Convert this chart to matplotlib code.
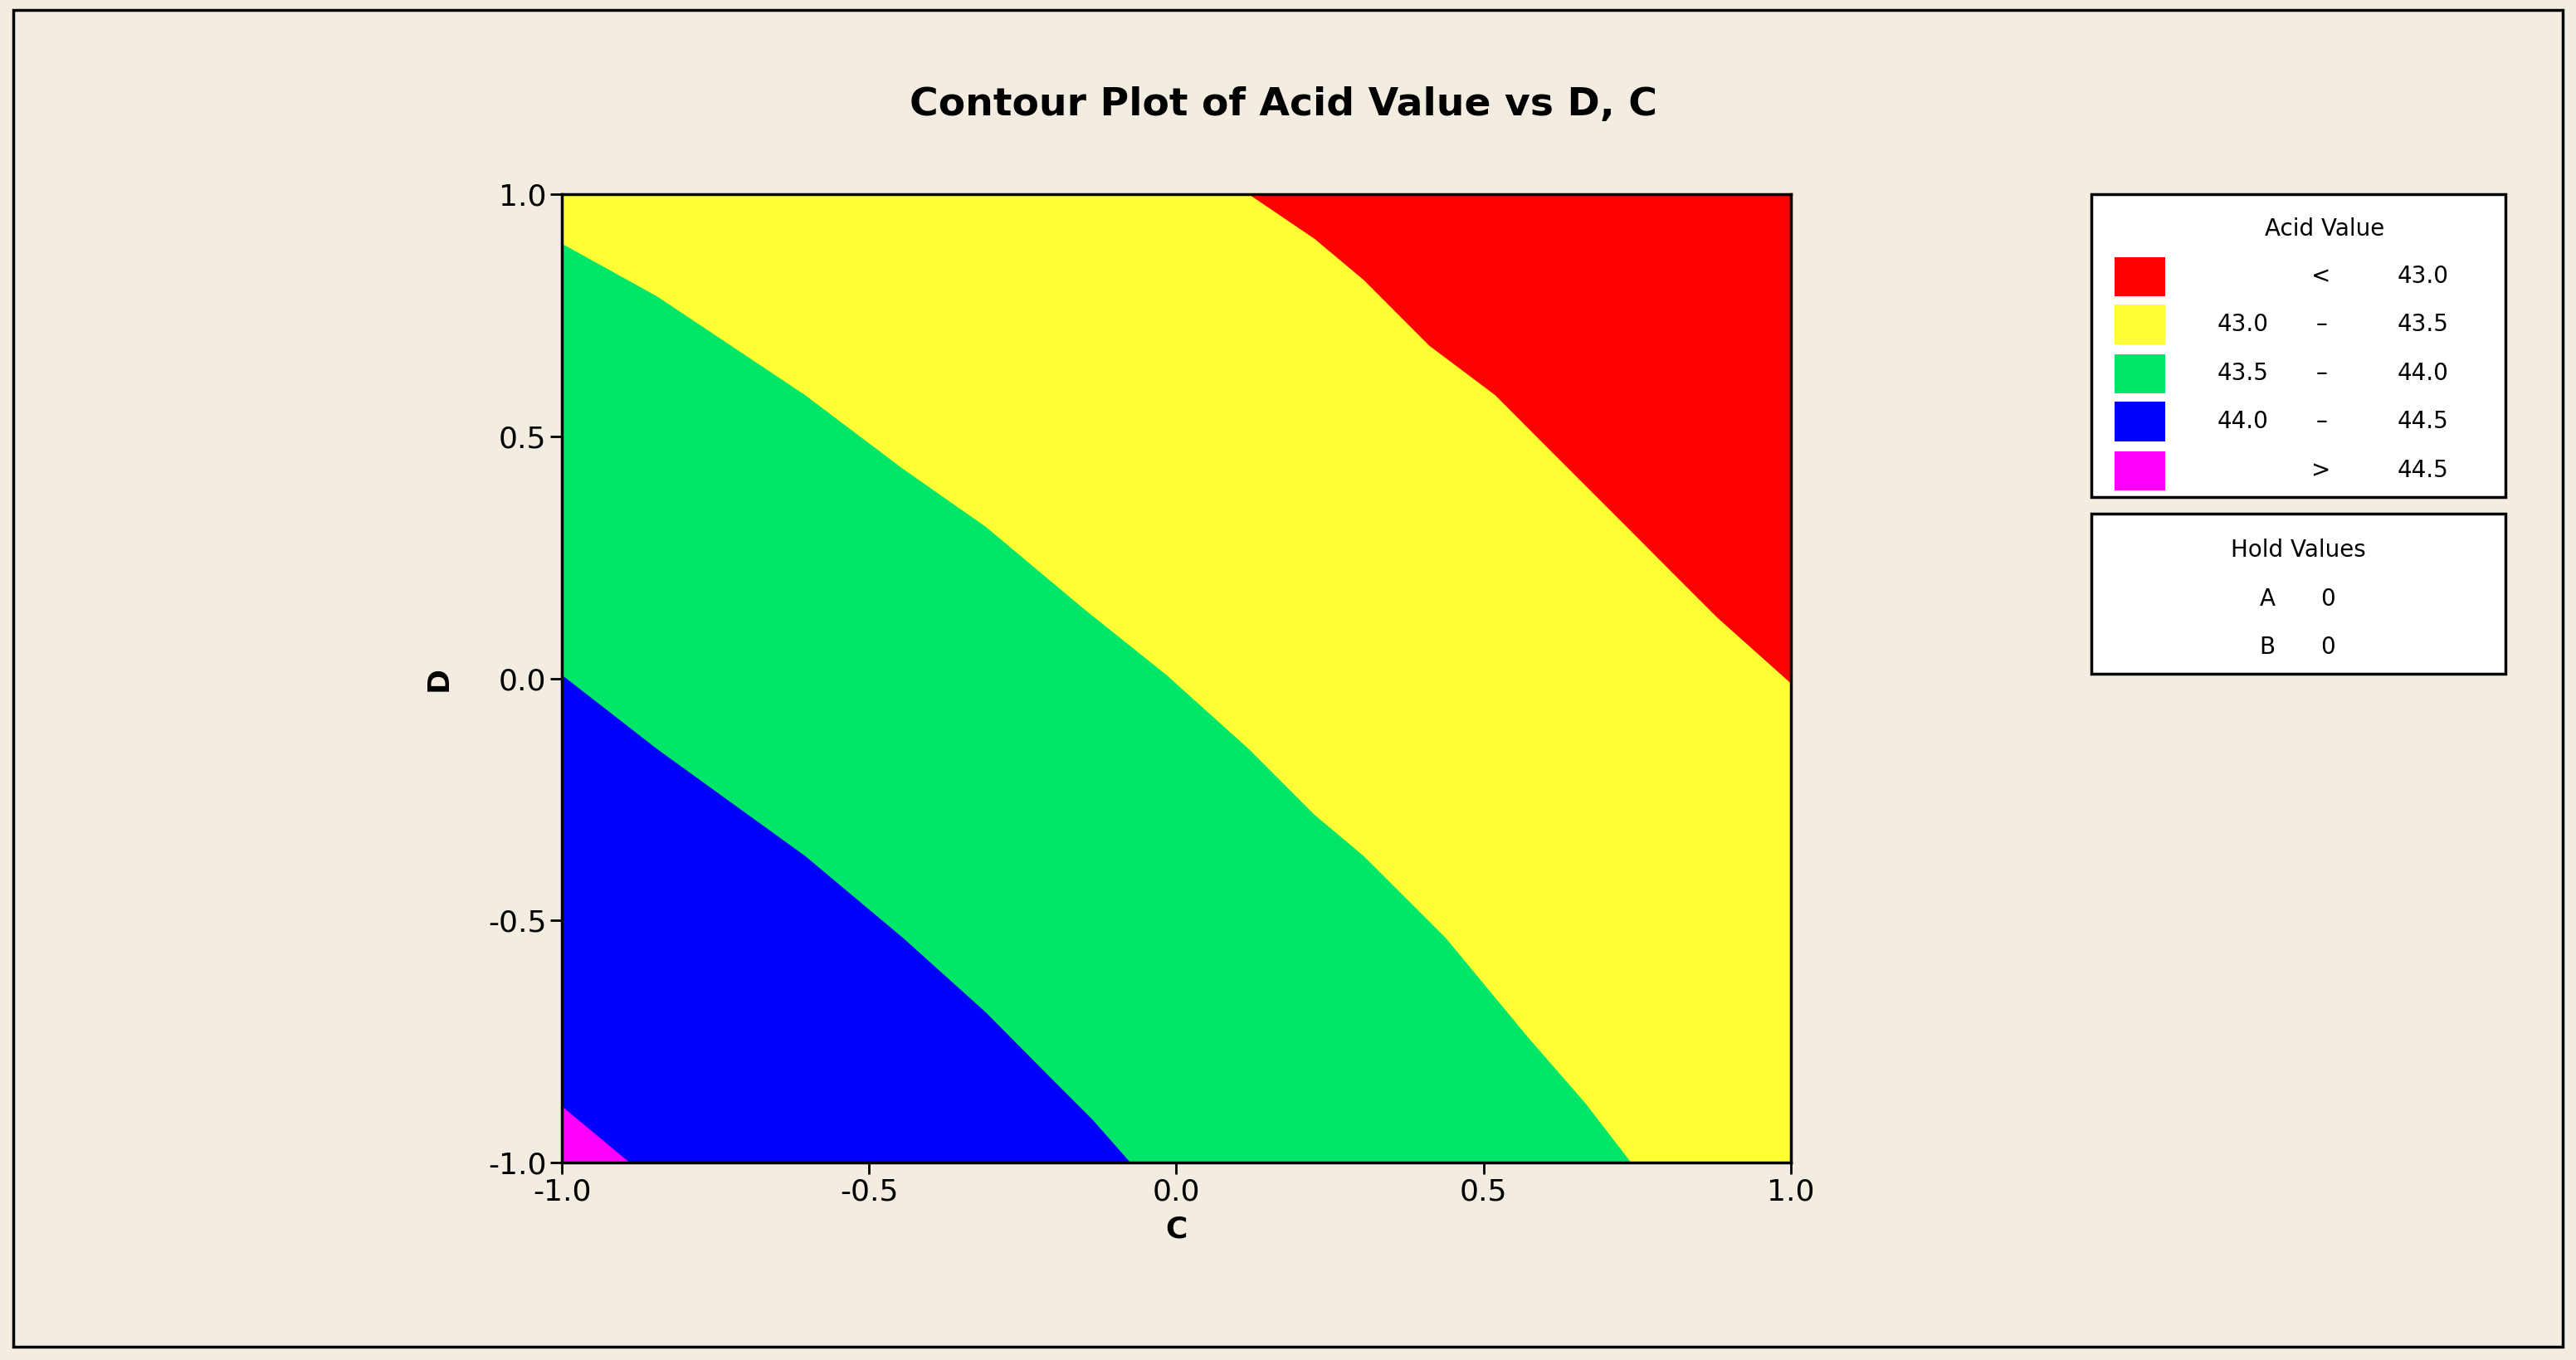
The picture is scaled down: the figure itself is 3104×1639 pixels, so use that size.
import matplotlib
matplotlib.use("Agg")
import numpy as np
from matplotlib import pyplot as plt
from matplotlib.patches import Rectangle, Polygon

# ---- data: contour boundaries (C, D) ----
b430_c = [0.118, 0.225, 0.305, 0.412, 0.519, 0.599, 0.666, 0.733, 0.813, 0.880, 1.0]
b430_d = [1.0, 0.908, 0.823, 0.687, 0.585, 0.483, 0.398, 0.313, 0.211, 0.126, -0.01]
b435_c = [-1.0, -0.845, -0.604, -0.444, -0.310, -0.150, -0.016, 0.118, 0.225, 0.305, 0.439, 0.572, 0.666, 0.740]
b435_d = [0.898, 0.789, 0.585, 0.432, 0.313, 0.143, 0.007, -0.146, -0.282, -0.367, -0.537, -0.741, -0.878, -1.0]
b440_c = [-1.0, -0.845, -0.604, -0.444, -0.310, -0.203, -0.136, -0.075]
b440_d = [0.007, -0.146, -0.367, -0.537, -0.690, -0.827, -0.912, -1.0]
b445_c = [-1.0, -0.890]
b445_d = [-0.884, -1.0]

legend_labels = [("", "<", "43.0"), ("43.0", "–", "43.5"), ("43.5", "–", "44.0"),
                 ("44.0", "–", "44.5"), ("", ">", "44.5")]
colors = ["#FF0000", "#FFFF33", "#00E668", "#0000FF", "#FF00FF"]
ticks = [-1.0, -0.5, 0.0, 0.5, 1.0]

BG = "#F3EDE1"
W, H = 1568, 826  # layout units (reference scaled)

fig = plt.figure(figsize=(31.04, 16.39), dpi=100, facecolor=BG)

# overlay for frame, title and legend
ov = fig.add_axes([0, 0, 1, 1])
ov.set_xlim(0, W)
ov.set_ylim(H, 0)
ov.axis("off")
ov.add_patch(Rectangle((8, 6), W - 16, H - 14, fill=False, lw=2.5, ec="black"))
ov.text(781, 64, "Contour Plot of Acid Value vs D, C", ha="center", va="center",
        fontsize=34, fontweight="bold", fontfamily="DejaVu Sans")

ov.add_patch(Rectangle((1273, 118), 252, 184, fc="white", ec="black", lw=2.5))
ov.text(1415, 139, "Acid Value", ha="center", va="center", fontsize=20)
rows = [168, 197, 227, 256, 286]
for y, col, (lo, sym, hi) in zip(rows, colors, legend_labels):
    ov.add_patch(Rectangle((1287, y - 12), 31, 24, fc=col, ec="none"))
    if lo:
        ov.text(1365, y, lo, ha="center", va="center", fontsize=20)
    ov.text(1413, y, sym, ha="center", va="center", fontsize=20)
    ov.text(1475, y, hi, ha="center", va="center", fontsize=20)

ov.add_patch(Rectangle((1273, 312), 252, 97, fc="white", ec="black", lw=2.5))
ov.text(1399, 334, "Hold Values", ha="center", va="center", fontsize=20)
ov.text(1380, 364, "A", ha="center", va="center", fontsize=20)
ov.text(1417, 364, "0", ha="center", va="center", fontsize=20)
ov.text(1380, 393, "B", ha="center", va="center", fontsize=20)
ov.text(1417, 393, "0", ha="center", va="center", fontsize=20)

# ---- main plot ----
ax = fig.add_axes([342 / W, 1 - 706 / H, 748 / W, 588 / H])
ax.set_facecolor(colors[1])
ax.add_patch(Polygon(list(zip(b435_c, b435_d)) + [(-1, -1)], fc=colors[2], ec="none"))
ax.add_patch(Polygon(list(zip(b440_c, b440_d)) + [(-1, -1)], fc=colors[3], ec="none"))
ax.add_patch(Polygon(list(zip(b445_c, b445_d)) + [(-1, -1)], fc=colors[4], ec="none"))
ax.add_patch(Polygon(list(zip(b430_c, b430_d)) + [(1, 1)], fc=colors[0], ec="none"))
ax.set_xlim(-1, 1)
ax.set_ylim(-1, 1)
ax.set_xticks(ticks)
ax.set_yticks(ticks)
ax.set_xticklabels([f"{t:.1f}" for t in ticks], fontsize=26)
ax.set_yticklabels([f"{t:.1f}" for t in ticks], fontsize=26)
ax.tick_params(length=10, width=2)
for s in ax.spines.values():
    s.set_linewidth(2.5)
ax.set_xlabel("C", fontsize=26, fontweight="bold", labelpad=8)
ax.set_ylabel("D", fontsize=26, fontweight="bold", labelpad=30)

fig.savefig("out.png", dpi=100, facecolor=BG)
